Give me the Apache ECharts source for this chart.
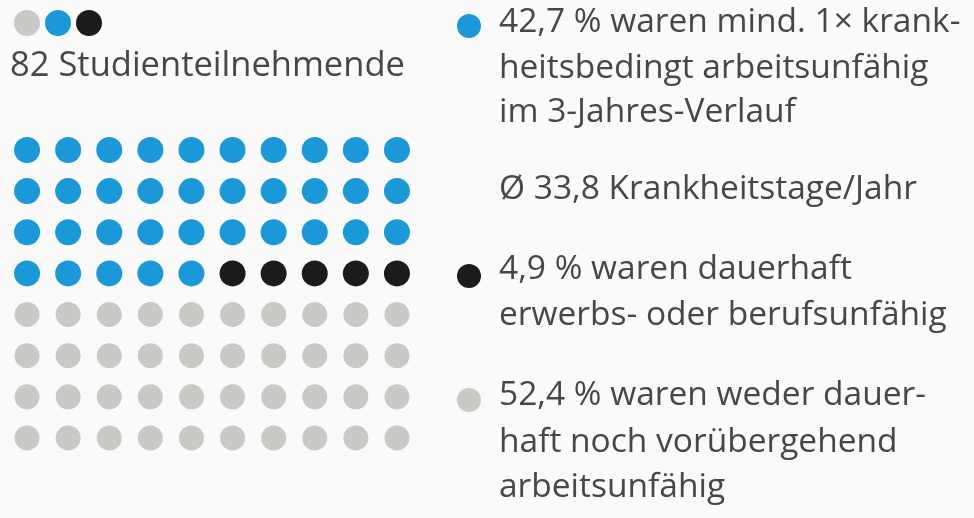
<!DOCTYPE html>
<html>
<head>
<meta charset="utf-8">
<script src="https://cdn.jsdelivr.net/npm/echarts@6/dist/echarts.min.js"></script>
<style>
html,body{margin:0;padding:0;background:#fafafa;}
#chart{width:974px;height:518px;}
</style>
</head>
<body>
<div id="chart"></div>
<script>
// Data
const categories = ['mind. 1× krankheitsbedingt arbeitsunfähig', 'dauerhaft erwerbs- oder berufsunfähig', 'weder dauerhaft noch vorübergehend arbeitsunfähig'];
const dotCounts = [35, 5, 40];
const colors = ['#1b98d8', '#1a1c1c', '#c9c9c5'];
const columns = 10;
const rows = 8;
const headline = '82 Studienteilnehmende';
const block1 = ['42,7 % waren mind. 1× krank-', 'heitsbedingt arbeitsunfähig', 'im 3-Jahres-Verlauf'];
const block1b = ['Ø 33,8 Krankheitstage/Jahr'];
const block2 = ['4,9 % waren dauerhaft', 'erwerbs- oder berufsunfähig'];
const block3 = ['52,4 % waren weder dauer-', 'haft noch vorübergehend', 'arbeitsunfähig'];

const FONT = '"Open Sans"';
const FSIZE = '33.5px ';
const TEXT_COLOR = '#474747';

// build points per category
let idx = 0;
const seriesData = dotCounts.map(function (n) {
  const pts = [];
  for (let k = 0; k < n; k++) {
    pts.push([idx % columns, Math.floor(idx / columns)]);
    idx++;
  }
  return pts;
});

const chart = echarts.init(document.getElementById('chart'), null, {renderer: 'canvas'});

const graphics = [];
// top legend dots
const topOrder = [2, 0, 1];
topOrder.forEach(function (ci, i) {
  graphics.push({type: 'circle', shape: {cx: 27 + i * 31, cy: 23, r: 13}, style: {fill: colors[ci]}, z: 10 + i});
});
graphics.push({type: 'text', x: 10, y: 66, style: {text: headline, font: '34.5px ' + FONT, fill: TEXT_COLOR, verticalAlign: 'middle'}});

function addLines(lines, ys) {
  lines.forEach(function (t, i) {
    graphics.push({type: 'text', x: 499, y: ys[i], style: {text: t, font: FSIZE + FONT, fill: TEXT_COLOR, verticalAlign: 'middle'}});
  });
}
addLines(block1, [22, 68, 112]);
addLines(block1b, [189]);
addLines(block2, [269, 315]);
addLines(block3, [395, 442, 487]);
// bullets
[[0, 26], [1, 276], [2, 400]].forEach(function (b) {
  graphics.push({type: 'circle', shape: {cx: 469, cy: b[1], r: 12}, style: {fill: colors[b[0]]}});
});

chart.setOption({
  backgroundColor: '#fafafa',
  animation: false,
  grid: {left: 6.5, top: 129.4, width: 411, height: 329.1},
  xAxis: {type: 'value', min: -0.5, max: columns - 0.5, show: false},
  yAxis: {type: 'value', min: -0.5, max: rows - 0.5, inverse: true, show: false},
  graphic: graphics,
  series: categories.map(function (c, i) {
    return {
      name: c,
      type: 'scatter',
      symbol: 'circle',
      symbolSize: i === 2 ? 25 : 26,
      itemStyle: {color: colors[i], opacity: 1},
      data: seriesData[i]
    };
  })
});
</script>
</body>
</html>
